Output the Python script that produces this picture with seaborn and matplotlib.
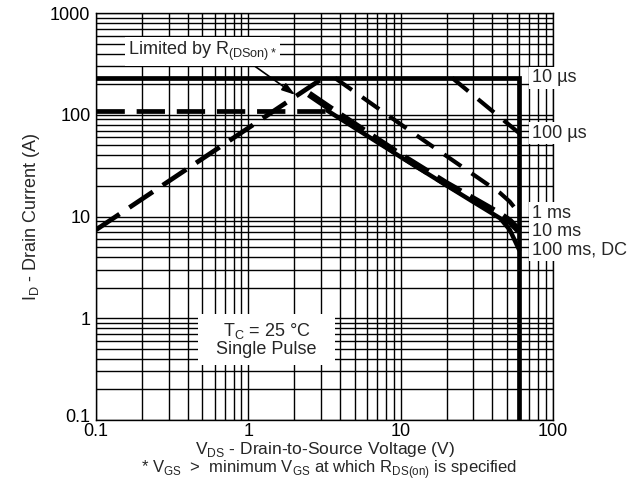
import matplotlib
matplotlib.use("Agg")
import matplotlib.pyplot as plt
import matplotlib.ticker as mticker
import matplotlib.transforms as mtransforms
from matplotlib.patches import Rectangle
import seaborn as sns

# axis ticks
x_ticks = [0.1, 1, 10, 100]
x_tick_labels = ["0.1", "1", "10", "100"]
y_ticks = [0.1, 1, 10, 100, 1000]
y_tick_labels = ["0.1", "1", "10", "100", "1000"]

# safe operating area curves (V, A)
env_v = [0.1, 60, 60]            # 10 us envelope
env_i = [230, 230, 0.1]
pkg_v = [0.1, 3.3]               # package limit
pkg_i = [110, 110]
rds_v = [0.1, 3.1]               # limited by R_DS(on)
rds_i = [7.4, 230]
us100_v = [21.8, 60]
us100_i = [230, 66]
ms1_v = [3.7, 12.1, 45, 52, 57, 60]
ms1_i = [230, 66, 17, 14, 11.8, 10.6]
ms10_v = [2.5, 3.4, 10, 20, 45, 52, 60]
ms10_i = [160, 117, 40, 21, 10.5, 9.0, 7.2]
dc_v = [3.3, 10, 20, 30, 45, 52, 60]
dc_i = [110, 38.5, 20.2, 13.9, 9.6, 7.4, 4.7]

labels = ["10 µs", "100 µs", "1 ms", "10 ms", "100 ms, DC"]
label_i = [230, 66, 10.8, 7.2, 4.7]

sns.set_style("white")
plt.rcParams["font.family"] = ["Liberation Sans", "DejaVu Sans"]
plt.rcParams["mathtext.fontset"] = "custom"
plt.rcParams["mathtext.rm"] = "Liberation Sans"

fs = 13

fig = plt.figure(figsize=(6.42, 4.82), dpi=100)
ax = fig.add_axes([0.1495, 0.1286, 0.7119, 0.8444])

ax.set_xscale("log")
ax.set_yscale("log")
ax.set_xlim(0.1, 100)
ax.set_ylim(0.1, 1000)

ax.grid(True, which="both", color="black", lw=1.0)
ax.set_axisbelow(True)

# curves
sns.lineplot(x=env_v, y=env_i, ax=ax, color="black", lw=3.4,
             estimator=None, sort=False, solid_joinstyle="miter")
sns.lineplot(x=pkg_v, y=pkg_i, ax=ax, color="black", lw=3.4,
             estimator=None, sort=False, linestyle=(0, (6, 2.5)))
sns.lineplot(x=rds_v, y=rds_i, ax=ax, color="black", lw=3.4,
             estimator=None, sort=False, linestyle=(0, (6, 2.5)))
sns.lineplot(x=us100_v, y=us100_i, ax=ax, color="black", lw=3.0,
             estimator=None, sort=False, linestyle=(0, (5, 3)))
sns.lineplot(x=ms1_v, y=ms1_i, ax=ax, color="black", lw=3.0,
             estimator=None, sort=False, linestyle=(0, (5, 3)))
sns.lineplot(x=dc_v, y=dc_i, ax=ax, color="black", lw=3.2,
             estimator=None, sort=False)
sns.lineplot(x=ms10_v, y=ms10_i, ax=ax, color="black", lw=5.0,
             estimator=None, sort=False, linestyle=(0, (4, 1.5)))

# ticks
ax.xaxis.set_major_locator(mticker.FixedLocator(x_ticks))
ax.xaxis.set_major_formatter(mticker.FixedFormatter(x_tick_labels))
ax.yaxis.set_major_locator(mticker.FixedLocator(y_ticks))
ax.yaxis.set_major_formatter(mticker.FixedFormatter(y_tick_labels))
ax.xaxis.set_minor_formatter(mticker.NullFormatter())
ax.yaxis.set_minor_formatter(mticker.NullFormatter())
ax.tick_params(which="both", length=0, labelsize=fs, colors="black")
ax.tick_params(axis="x", pad=2)
ax.tick_params(axis="y", pad=4)
for s in ax.spines.values():
    s.set_color("black")
    s.set_linewidth(1.0)

# lift the bottom y label a little so it clears the x "0.1"
lift = mtransforms.ScaledTranslation(0, 5 / 100, fig.dpi_scale_trans)
bottom_lab = ax.get_yticklabels()[0]
bottom_lab.set_transform(bottom_lab.get_transform() + lift)

# curve labels on the right
for lab, yi in zip(labels, label_i):
    ax.text(73, yi, lab, ha="left", va="center", fontsize=fs, clip_on=False,
            bbox=dict(boxstyle="square,pad=0.15", fc="white", ec="none"), zorder=5)

# annotation boxes
ax.annotate(r"Limited by R$_\mathregular{(DSon)*}$", xy=(2.03, 157), xytext=(0.5, 420),
            ha="center", va="center", fontsize=fs, zorder=6,
            bbox=dict(boxstyle="square,pad=0.15", fc="white", ec="none"),
            arrowprops=dict(arrowstyle="-|>,head_length=0.8,head_width=0.25",
                            color="black", lw=1.2, shrinkA=0, shrinkB=0,
                            mutation_scale=10, relpos=(0.82, 0.0)))

ax.add_patch(Rectangle((0.223, 0.135), 0.30, 0.125, transform=ax.transAxes,
                       fc="white", ec="none", zorder=4))
ax.text(0.373, 0.197, "T$_\\mathregular{C}$ = 25 °C\nSingle Pulse",
        transform=ax.transAxes, ha="center", va="center", fontsize=fs,
        linespacing=1.0, zorder=5)

ax.set_xlabel(r"V$_\mathregular{DS}$ - Drain-to-Source Voltage (V)", fontsize=12.5, labelpad=0)
ax.set_ylabel(r"I$_\mathregular{D}$ - Drain Current (A)", fontsize=13, labelpad=6)
fig.text(0.512, 0.002,
         r"* V$_\mathregular{GS}$  >  minimum V$_\mathregular{GS}$ at which R$_\mathregular{DS(on)}$ is specified",
         ha="center", va="bottom", fontsize=12)

fig.savefig("out.png", dpi=100)
